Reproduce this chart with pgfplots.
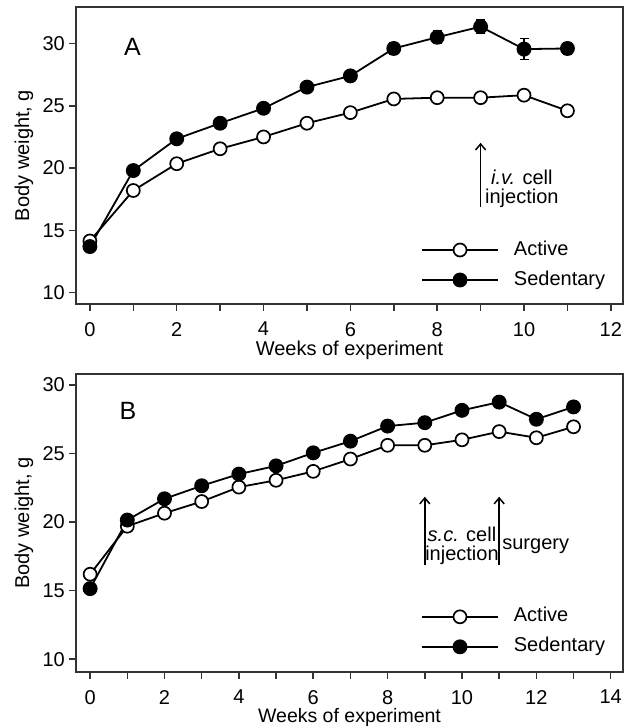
\documentclass[border=0pt]{standalone}
\usepackage{pgfplots}
\pgfplotsset{compat=1.18}
\usepackage{fontspec}
\setmainfont{Liberation Sans}
\usetikzlibrary{arrows.meta}
\newcommand{\tf}{\fontsize{20bp}{19bp}\selectfont}
\pgfplotsset{
  myaxis/.style={
    scale only axis, width=547bp, anchor=south west,
    tick align=outside, tick pos=left, major tick length=7bp,
    axis line style={black!80, line width=1.6bp},
    every tick/.style={black!80, line width=1.5bp},
    ytick={10,15,20,25,30},
    tick label style={font=\tf},
    /pgf/number format/assume math mode=true,
    xticklabel style={inner sep=0pt, anchor=north, yshift=-11bp},
    yticklabel style={inner sep=0pt, anchor=east, xshift=-4bp},
    label style={font=\tf, inner sep=0pt},
    ylabel={Body weight, g},
    xlabel={Weeks of experiment},
    ylabel style={at={([xshift=-52bp]rel axis cs:0,0.5)}, anchor=center},
    legend cell align=left,
    legend image code/.code={\draw[mark repeat=2,mark phase=2,##1] plot coordinates {(0bp,0bp) (38bp,0bp) (76bp,0bp)};},
    legend style={draw=none, fill=none, inner sep=0pt, outer sep=0pt, anchor=west, font=\tf,
      row sep=11bp, column sep=15bp, nodes={inner sep=0pt, text height=14.5bp, text depth=4.5bp}},
  },
  active/.style={black, line width=1.8bp, mark=*, mark size=6.5bp, mark options={fill=white, line width=1.7bp}},
  sed/.style={black, line width=1.8bp, mark=*, mark size=6.7bp, mark options={fill=black, line width=1.5bp},
    error bars/.cd, y dir=both, y explicit, error bar style={line width=1.5bp}, error mark options={rotate=90, mark size=4.5bp, line width=1.5bp}},
}
\begin{document}
\begin{tikzpicture}
\useasboundingbox (0,0) rectangle (632bp,728bp);
% Panel A
\begin{axis}[myaxis, at={(76bp,424bp)}, height=297bp,
  xmin=-0.32, xmax=12.28, ymin=9.09, ymax=32.93,
  xtick={0,...,12}, xticklabels={0,,2,,4,,6,,8,,10,,12},
  xlabel style={at={([yshift=-51.5bp]rel axis cs:0.5,0)}, anchor=base},
  legend style={at={(axis cs:7.63,12.22)}}]
\addplot[active] coordinates {(0,14.15) (1,18.2) (2,20.35) (3,21.55) (4,22.5) (5,23.6) (6,24.45) (7,25.55) (8,25.65) (9,25.65) (10,25.85) (11,24.6)};
\addlegendentry{Active}
\addplot[sed] coordinates {(0,13.7)+-(0,0.3) (1,19.8)+-(0,0.3) (2,22.35)+-(0,0.3) (3,23.6)+-(0,0.3) (4,24.8)+-(0,0.3) (5,26.5)+-(0,0.35) (6,27.4)+-(0,0.35) (7,29.6)+-(0,0.45) (8,30.5)+-(0,0.5) (9,31.35)+-(0,0.55) (10,29.55)+-(0,0.85) (11,29.6)+-(0,0.45)};
\addlegendentry{Sedentary}
\draw[black, line width=1.5bp, -{Straight Barb[length=6bp,width=10bp]}] (axis cs:9,16.9) -- (axis cs:9,22.03);
\node[font=\tf, align=center, inner sep=0pt] at (axis cs:9.95,18.32) {\textit{i.v.} cell\\injection};
\node[font=\fontsize{25bp}{25bp}\selectfont, inner sep=0pt] at (axis cs:0.98,29.73) {A};
\end{axis}
% Panel B
\begin{axis}[myaxis, at={(76bp,56bp)}, height=298bp,
  xmin=-0.38, xmax=14.33, ymin=9.07, ymax=30.8,
  xtick={0,...,14}, xticklabels={0,,2,,4,,6,,8,,10,,12,,14},
  xlabel style={at={([yshift=-50bp]rel axis cs:0.5,0)}, anchor=base, font=\fontsize{19.5bp}{19bp}\selectfont},
  legend style={at={(axis cs:8.9,12.0)}}]
\addplot[active] coordinates {(0,16.2) (1,19.7) (2,20.65) (3,21.5) (4,22.55) (5,23.05) (6,23.7) (7,24.6) (8,25.6) (9,25.6) (10,26.0) (11,26.6) (12,26.15) (13,26.95)};
\addlegendentry{Active}
\addplot[sed] coordinates {(0,15.15)+-(0,0.2) (1,20.15)+-(0,0.2) (2,21.7)+-(0,0.2) (3,22.65)+-(0,0.2) (4,23.5)+-(0,0.2) (5,24.1)+-(0,0.2) (6,25.05)+-(0,0.2) (7,25.9)+-(0,0.2) (8,27.0)+-(0,0.2) (9,27.25)+-(0,0.2) (10,28.15)+-(0,0.2) (11,28.75)+-(0,0.3) (12,27.5)+-(0,0.3) (13,28.4)+-(0,0.35)};
\addlegendentry{Sedentary}
\draw[black, line width=1.5bp, -{Straight Barb[length=6bp,width=10bp]}] (axis cs:9,16.86) -- (axis cs:9,21.85);
\draw[black, line width=1.5bp, -{Straight Barb[length=6bp,width=10bp]}] (axis cs:11,16.86) -- (axis cs:11,21.85);
\node[font=\tf, align=center, inner sep=0pt] at (axis cs:10,18.25) {\textit{s.c.} cell\\injection};
\node[font=\tf, anchor=west, inner sep=0pt] at (axis cs:11.08,18.25) {surgery};
\node[font=\fontsize{25bp}{25bp}\selectfont, inner sep=0pt] at (axis cs:1.02,28.09) {B};
\end{axis}
\end{tikzpicture}
\end{document}
